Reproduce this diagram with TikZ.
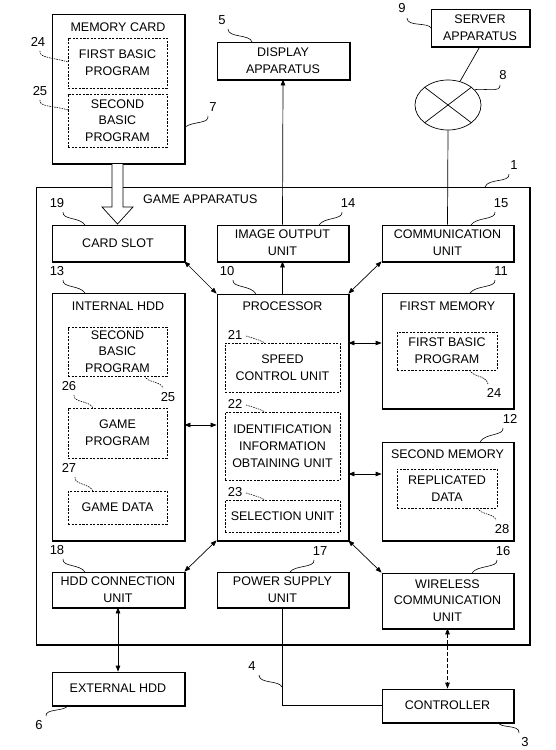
\documentclass[tikz,border=0pt]{standalone}
\usepackage{fontspec}
\setmainfont{Liberation Sans}
\usetikzlibrary{arrows.meta,shapes.geometric,calc}
\tikzset{
  box/.style={draw, line width=0.7pt, fill=white, inner sep=0pt, align=center, font=\fontsize{12.5}{16.8}\selectfont},
  dbox/.style={draw, line width=0.6pt, dash pattern=on 2.2pt off 1.4pt, inner sep=0pt, align=center, font=\fontsize{12.5}{16.8}\selectfont},
  ttl/.style={inner sep=0pt, font=\fontsize{12.5}{16.8}\selectfont},
  lbl/.style={inner sep=0pt, font=\fontsize{13}{14}\selectfont},
  lead/.style={line width=0.6pt},
  dlead/.style={line width=0.6pt, dash pattern=on 1.5pt off 1pt},
  arr/.style={line width=0.7pt, -{Triangle[length=6pt,width=4.5pt]}},
  darr/.style={line width=0.7pt, {Triangle[length=6pt,width=4.5pt]}-{Triangle[length=6pt,width=4.5pt]}},
  shad/.style={line width=1.3pt},
}
\begin{document}
\begin{tikzpicture}[x=1pt,y=-1pt]
\useasboundingbox (0,0) rectangle (556,750);
% game apparatus
\node[box, line width=0.8pt, minimum width=493pt, minimum height=457pt] (game) at (282.5,415.5) {};
\draw[line width=2pt] ([shift={(1pt,-0.5pt)}]game.north east) -- ([shift={(1pt,-1pt)}]game.south east) -- ([shift={(0.5pt,-1pt)}]game.south west);
\node[ttl, anchor=west] (gamet) at (143,199) {GAME APPARATUS};
% memory card
\node[box, minimum width=132pt, minimum height=149pt] (memcard) at (118,88.5) {};
\node[ttl] (memcardt) at (118,27) {MEMORY CARD};
\node[dbox, minimum width=99pt, minimum height=50pt] (mcfirst) at (117.5,63) {FIRST BASIC\\PROGRAM};
\node[dbox, minimum width=99pt, minimum height=53pt] (mcsecond) at (117.5,120.5) {SECOND\\BASIC\\PROGRAM};
% outer boxes
\node[box, minimum width=132pt, minimum height=37pt] (disp) at (283,60.5) {DISPLAY\\APPARATUS};
\node[box, minimum width=98pt, minimum height=37pt] (server) at (480,27.5) {SERVER\\APPARATUS};
\node[draw, line width=0.7pt, ellipse, minimum width=66pt, minimum height=50pt, inner sep=0pt] (net) at (448,105) {};
\draw[line width=0.7pt] (net.north west) -- (net.south east) (net.north east) -- (net.south west);
% top row
\node[box, minimum width=132pt, minimum height=36pt] (cs) at (118,243) {CARD SLOT};
\node[box, minimum width=131pt, minimum height=36pt] (img) at (282.5,243) {IMAGE OUTPUT\\UNIT};
\node[box, minimum width=131pt, minimum height=36pt] (comm) at (447.5,243) {COMMUNICATION\\UNIT};
% internal hdd
\node[box, minimum width=132pt, minimum height=247pt] (hdd) at (118,416.5) {};
\node[ttl] (hddt) at (118,306) {INTERNAL HDD};
\node[dbox, minimum width=99pt, minimum height=49pt] (hddsecond) at (117.5,351.5) {SECOND\\BASIC\\PROGRAM};
\node[dbox, minimum width=99pt, minimum height=50pt] (gprog) at (117.5,433) {GAME\\PROGRAM};
\node[dbox, minimum width=99pt, minimum height=33pt] (gdata) at (117.5,507.5) {GAME DATA};
% processor
\node[box, minimum width=131pt, minimum height=246pt] (proc) at (282.5,417) {};
\node[ttl] (proct) at (282.5,306) {PROCESSOR};
\node[dbox, minimum width=115pt, minimum height=49pt] (speed) at (282.5,367.5) {SPEED\\CONTROL UNIT};
\node[dbox, minimum width=115pt, minimum height=68pt] (ident) at (282.5,446) {IDENTIFICATION\\INFORMATION\\OBTAINING UNIT};
\node[dbox, minimum width=115pt, minimum height=32pt] (sel) at (282.5,516) {SELECTION UNIT};
% memories
\node[box, minimum width=131pt, minimum height=115pt] (fm) at (447.5,350.5) {};
\node[ttl] (fmt) at (447.5,306) {FIRST MEMORY};
\node[dbox, minimum width=100pt, minimum height=38pt] (fmfirst) at (447,351) {FIRST BASIC\\PROGRAM};
\node[box, minimum width=131pt, minimum height=98pt] (sm) at (447.5,491) {};
\node[ttl] (smt) at (447.5,454) {SECOND MEMORY};
\node[dbox, minimum width=100pt, minimum height=39pt] (rep) at (447,488.5) {REPLICATED\\DATA};
% bottom row
\node[box, minimum width=132pt, minimum height=35pt] (hddc) at (118,589.5) {HDD CONNECTION\\UNIT};
\node[box, minimum width=131pt, minimum height=35pt] (pow) at (282.5,589.5) {POWER SUPPLY\\UNIT};
\node[box, minimum width=131pt, minimum height=55pt] (wl) at (447.5,600.5) {WIRELESS\\COMMUNICATION\\UNIT};
\node[box, minimum width=132pt, minimum height=33pt] (ext) at (118,688.5) {EXTERNAL HDD};
\node[box, minimum width=131pt, minimum height=33pt] (ctrl) at (447.5,705.5) {CONTROLLER};
% shadows
\foreach \n in {memcard,disp,server,cs,img,comm,hdd,proc,fm,sm,hddc,pow,wl,ext,ctrl}
  \draw[shad] ([shift={(0.9pt,-0.5pt)}]\n.north east) -- ([shift={(0.9pt,-0.9pt)}]\n.south east) -- ([shift={(0.5pt,-0.9pt)}]\n.south west);
% hollow arrow memory card -> card slot
\draw[line width=0.7pt, fill=white] (112,164) -- (112,207) -- (102,207) -- (117.5,224) -- (133,207) -- (123,207) -- (123,164);
% connectors
\draw[arr] (img.north) -- (disp.south);
\draw[line width=0.7pt] (server.south) -- (net.63);
\draw[line width=0.7pt] (net.south) -- (comm.north);
\draw[arr] (proc.north) -- (img.south);
\draw[darr] (cs.south east) -- (proc.north west);
\draw[darr] (comm.south west) -- (proc.north east);
\draw[darr] (hdd.east |- 0,425) -- (proc.west |- 0,425);
\draw[darr] (proc.east |- 0,343) -- (fm.west |- 0,343);
\draw[darr] (proc.east |- 0,474) -- (sm.west |- 0,474);
\draw[darr] (proc.south west) -- (hddc.north east);
\draw[darr] (proc.south east) -- (wl.north west);
\draw[darr] (hddc.south) -- (ext.north);
\draw[darr, dash pattern=on 4pt off 2pt] (wl.south) -- (ctrl.north);
\draw[line width=0.7pt] (pow.south) |- (ctrl.west);
% reference numerals
\node[lbl] (n24a) at (38,42) {24};
\draw[dlead] (40,51) .. controls (38,58) and (56,58) .. (68,62);
\node[lbl] (n25a) at (40,91) {25};
\draw[dlead] (40,100) .. controls (38,107) and (56,106) .. (68,110);
\node[lbl] (n7) at (213,107) {7};
\draw[lead] (208,116) .. controls (209,124) and (194,121) .. (185,127);
\node[lbl] (n5) at (222,20) {5};
\draw[lead] (228,29) .. controls (228,38) and (250,34) .. (252,42);
\node[lbl] (n9) at (402,8) {9};
\draw[lead] (407,18) .. controls (407,27) and (428,22) .. (431,28);
\node[lbl] (n8) at (503,75) {8};
\draw[lead] (500,85) .. controls (501,93) and (484,88) .. (net.30);
\node[lbl] (n1) at (514,165) {1};
\draw[lead] (509,174) .. controls (510,183) and (488,178) .. (485,187);
\node[lbl] (n19) at (57,203) {19};
\draw[lead] (63,212) .. controls (62,220) and (80,217) .. (85,225);
\node[lbl] (n14) at (348,203) {14};
\draw[lead] (342,212) .. controls (343,220) and (324,217) .. (319,225);
\node[lbl] (n15) at (501,203) {15};
\draw[lead] (495,212) .. controls (496,220) and (476,217) .. (471,225);
\node[lbl] (n13) at (57,271) {13};
\draw[lead] (63,280) .. controls (62,288) and (80,285) .. (85,293);
\node[lbl] (n10) at (227,271) {10};
\draw[lead] (233,280) .. controls (232,288) and (251,285) .. (256,294);
\node[lbl] (n11) at (501,271) {11};
\draw[lead] (495,280) .. controls (496,288) and (476,285) .. (470,293);
\node[lbl] (n21) at (235,335) {21};
\draw[dlead] (246,336) .. controls (252,338) and (258,339) .. (265,343);
\node[lbl] (n22) at (235,404) {22};
\draw[dlead] (246,405) .. controls (252,407) and (258,408) .. (265,412);
\node[lbl] (n23) at (235,492) {23};
\draw[dlead] (246,493) .. controls (252,495) and (258,496) .. (265,500);
\node[lbl] (n24b) at (494,393) {24};
\draw[dlead] (470,370) .. controls (472,377) and (486,375) .. (488,384);
\node[lbl] (n25b) at (168,397) {25};
\draw[dlead] (145,376) .. controls (147,383) and (161,381) .. (163,388);
\node[lbl] (n26) at (69,386) {26};
\draw[dlead] (74,395) .. controls (73,403) and (89,400) .. (93,408);
\node[lbl] (n27) at (69,468) {27};
\draw[dlead] (75,477) .. controls (74,485) and (89,483) .. (93,491);
\node[lbl] (n28) at (502,529) {28};
\draw[dlead] (478,508) .. controls (480,515) and (494,513) .. (496,520);
\node[lbl] (n12) at (510,419) {12};
\draw[lead] (503,428) .. controls (504,436) and (485,433) .. (480,442);
\node[lbl] (n18) at (57,550) {18};
\draw[lead] (63,559) .. controls (62,567) and (80,564) .. (85,572);
\node[lbl] (n17) at (320,551) {17};
\draw[lead] (314,560) .. controls (315,568) and (295,565) .. (290,572);
\node[lbl] (n16) at (503,551) {16};
\draw[lead] (497,560) .. controls (498,568) and (477,565) .. (472,573);
\node[lbl] (n6) at (39,725) {6};
\draw[lead] (46,716) .. controls (45,708) and (66,712) .. (68,705);
\node[lbl] (n4) at (252,666) {4};
\draw[lead] (259,675) .. controls (259,684) and (279,680) .. (282,687);
\node[lbl] (n3) at (525,742) {3};
\draw[lead] (519,733) .. controls (520,724) and (500,729) .. (498,722);
\end{tikzpicture}
\end{document}
